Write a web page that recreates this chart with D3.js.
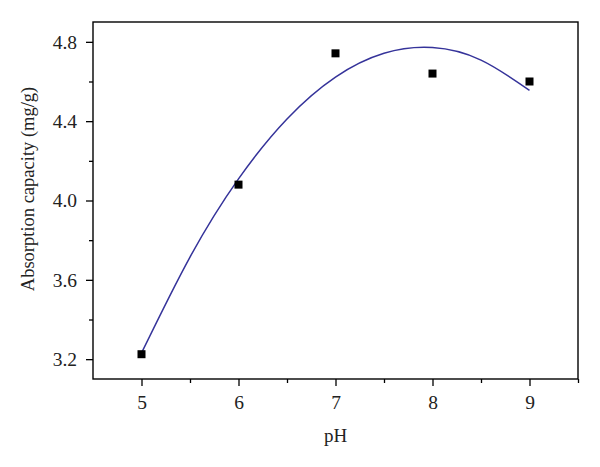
<!DOCTYPE html>
<html>
<head>
<meta charset="utf-8">
<script src="https://cdn.jsdelivr.net/npm/d3@7"></script>
<style>
  html, body { margin: 0; padding: 0; background: #fff; }
  svg { display: block; }
  text { font-family: "Liberation Serif", "DejaVu Serif", serif; fill: #222; }
</style>
</head>
<body>
<svg id="chart" width="600" height="467"></svg>
<script>
// Measured data points
const phValues = [5, 6, 7, 8, 9];
const capacity = [3.225, 4.08, 4.742, 4.64, 4.60];

// Fitted curve
const fitX = [5, 5.5, 6, 6.5, 7, 7.5, 8, 8.5, 9];
const fitY = [3.231, 3.715, 4.109, 4.411, 4.622, 4.742, 4.771, 4.708, 4.555];

// Tick labels
const xTicks = [5, 6, 7, 8, 9];
const xMinorTicks = [5.5, 6.5, 7.5, 8.5, 9.5];
const yTicks = [3.2, 3.6, 4.0, 4.4, 4.8];
const yMinorTicks = [3.4, 3.8, 4.2, 4.6];

const FONT = '"Liberation Serif", "DejaVu Serif", serif';
const svg = d3.select("#chart");
const L = 93, T = 22, R = 578, B = 379;

const x = d3.scaleLinear().domain([4.5, 9.5]).range([L, R]);
const y = d3.scaleLinear().domain([3.1, 4.9]).range([B, T]);

// frame
svg.append("rect")
  .attr("x", L).attr("y", T).attr("width", R - L).attr("height", B - T)
  .attr("fill", "none").attr("stroke", "#000").attr("stroke-width", 1.4);

// X axis
const xAxis = d3.axisBottom(x).tickValues(xTicks).tickSize(7).tickPadding(9)
  .tickFormat(d3.format("d"));
const gx = svg.append("g").attr("transform", `translate(0,${B})`).call(xAxis);
gx.select(".domain").remove();
gx.selectAll("line").attr("stroke", "#000").attr("stroke-width", 1.3);
gx.selectAll("text").style("font-size", "19.5px").style("font-family", FONT).attr("fill", "#222");

const gxm = svg.append("g").attr("transform", `translate(0,${B})`)
  .call(d3.axisBottom(x).tickValues(xMinorTicks).tickSize(4).tickFormat(""));
gxm.select(".domain").remove();
gxm.selectAll("line").attr("stroke", "#000").attr("stroke-width", 1.3);

// Y axis
const yAxis = d3.axisLeft(y).tickValues(yTicks).tickSize(7).tickPadding(9)
  .tickFormat(d3.format(".1f"));
const gy = svg.append("g").attr("transform", `translate(${L},0)`).call(yAxis);
gy.select(".domain").remove();
gy.selectAll("line").attr("stroke", "#000").attr("stroke-width", 1.3);
gy.selectAll("text").style("font-size", "19.5px").style("font-family", FONT).attr("fill", "#222");

const gym = svg.append("g").attr("transform", `translate(${L},0)`)
  .call(d3.axisLeft(y).tickValues(yMinorTicks).tickSize(4).tickFormat(""));
gym.select(".domain").remove();
gym.selectAll("line").attr("stroke", "#000").attr("stroke-width", 1.3);

// axis titles
svg.append("text")
  .attr("x", x(7)).attr("y", 442)
  .attr("text-anchor", "middle")
  .style("font-size", "19px").style("font-family", FONT)
  .text("pH");

svg.append("text")
  .attr("transform", `translate(34,189) rotate(-90)`)
  .attr("text-anchor", "middle")
  .style("font-size", "18.5px").style("font-family", FONT)
  .text("Absorption capacity (mg/g)");

// fitted curve
const line = d3.line().x((d, i) => x(fitX[i])).y(d => y(d)).curve(d3.curveNatural);
svg.append("path")
  .datum(fitY)
  .attr("d", line)
  .attr("fill", "none")
  .attr("stroke", "#35339a")
  .attr("stroke-width", 1.5);

// points
const s = 8;
svg.append("g").selectAll("rect")
  .data(capacity)
  .join("rect")
  .attr("x", (d, i) => x(phValues[i]) - s / 2)
  .attr("y", d => y(d) - s / 2)
  .attr("width", s).attr("height", s)
  .attr("fill", "#000");
</script>
</body>
</html>
